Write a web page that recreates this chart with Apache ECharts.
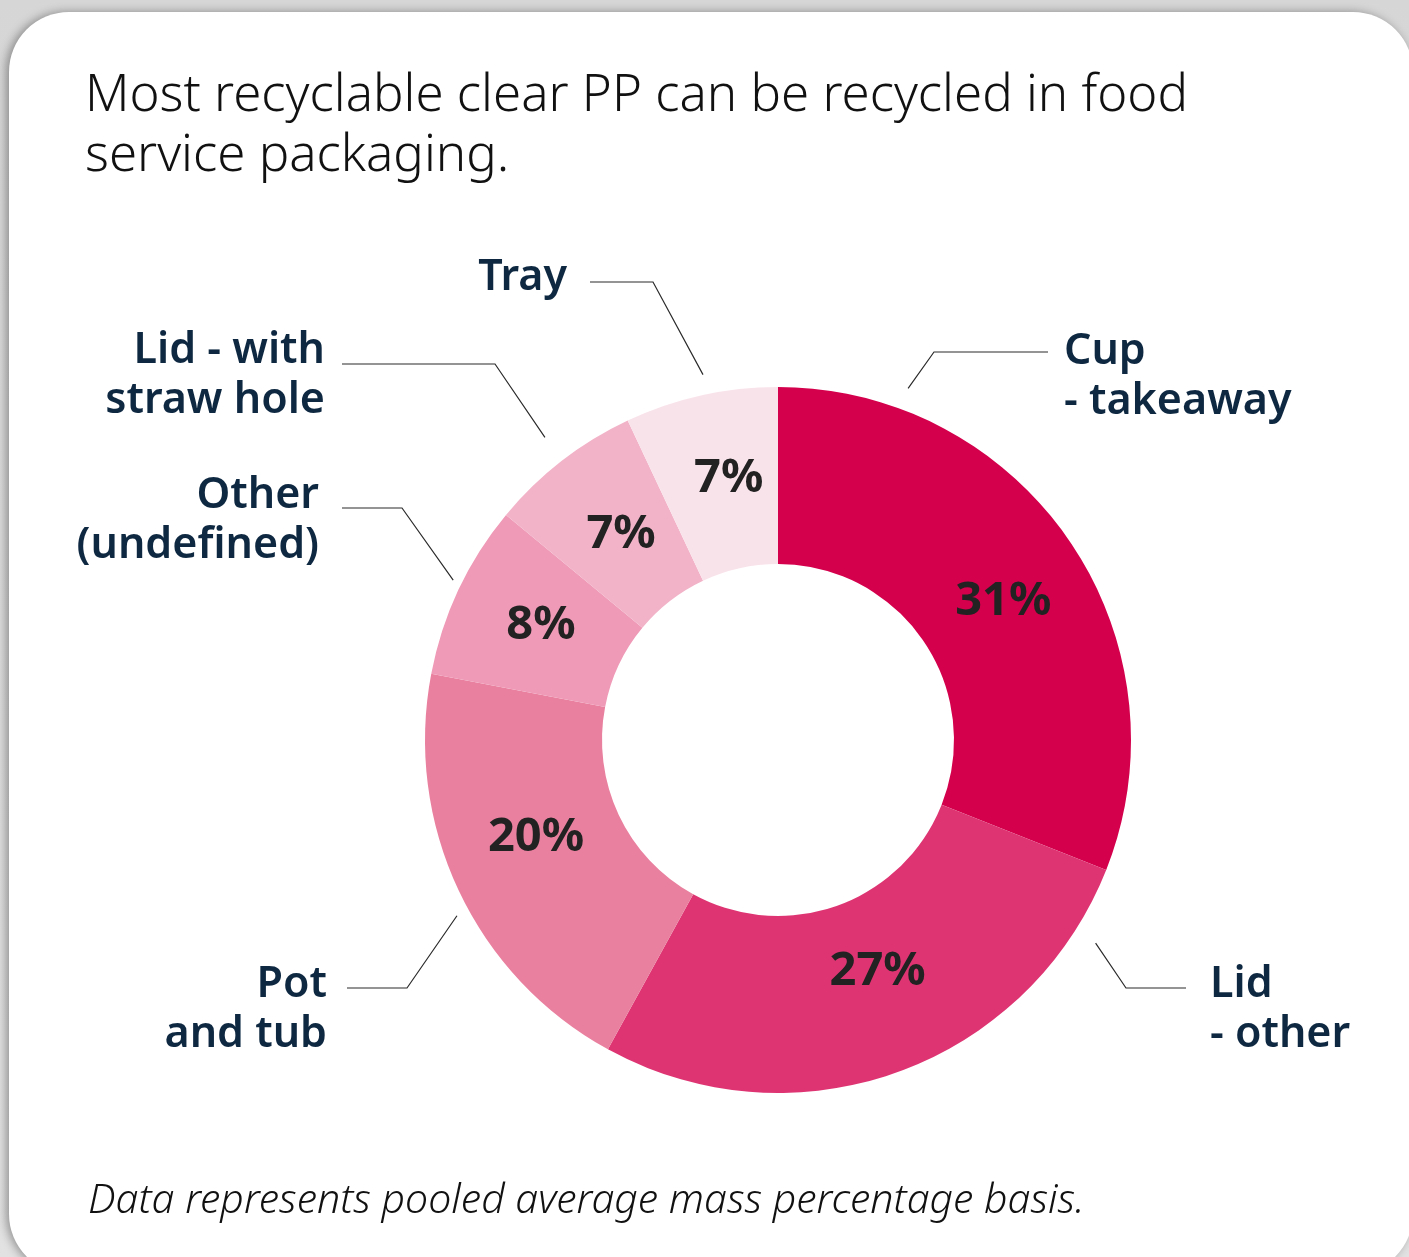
<!DOCTYPE html>
<html>
<head>
<meta charset="utf-8">
<script src="https://cdn.jsdelivr.net/npm/echarts@6/dist/echarts.min.js"></script>
<style>
  html, body { margin: 0; padding: 0; width: 1409px; height: 1257px; overflow: hidden;
    background: linear-gradient(180deg, #d6d6d6 0%, #e2e2e2 100%); }
  #card { position: absolute; left: 9px; top: 12px; width: 1404px; height: 1262px;
    background: #ffffff; border-radius: 60px;
    box-shadow: -3px 0 10px rgba(0,0,0,0.35); }
  #chart { position: absolute; left: 0; top: 0; width: 1409px; height: 1257px; }
</style>
</head>
<body>
<div id="card"></div>
<div id="chart"></div>
<script>
// ---- data ----
const categories = ["Cup\n- takeaway", "Lid\n- other", "Pot\nand tub", "Other\n(undefined)", "Lid - with\nstraw hole", "Tray"];
const shares = [31, 27, 20, 8, 7, 7];
const sliceColors = ["#D4004C", "#DE3572", "#E9809F", "#EF9AB7", "#F2B3C9", "#F9E3EA"];
const titleText = "Most recyclable clear PP can be recycled in food\nservice packaging.";
const noteText = "Data represents pooled average mass percentage basis.";

// ---- layout (styling only) ----
const CENTER = [778, 740];
const R_IN = 176, R_OUT = 353;
const FONT = "'Noto Sans', 'Open Sans', sans-serif";
// outer label placement: anchor angle (deg clockwise from top), anchor radius, elbow, line end, text box
const labelPlacement = [
  { ang: 20.3,  r: 375, elbow: [934, 352], end: [1048, 352], x: 1064, y: 327, align: "left" },
  { ang: 122.6, r: 377, elbow: [1126, 988], end: [1186, 988], x: 1210, y: 960, align: "left" },
  { ang: 241.3, r: 366, elbow: [407, 988], end: [347, 988], x: 327, y: 960, align: "right" },
  { ang: 296.2, r: 362, elbow: [402, 508], end: [342, 508], x: 319, y: 471, align: "right" },
  { ang: 322.4, r: 382, elbow: [495, 364], end: [342, 364], x: 325, y: 326, align: "right" },
  { ang: 348.4, r: 373, elbow: [653, 282], end: [590, 282], x: 567, y: 253, align: "right" }
];
// small nudges of the inner percentage labels
const innerNudge = [[4, 12], [9, -20], [0, -16], [5, 0], [7, 6], [9, 0]];
function polar(angDeg, r) {
  const a = angDeg * Math.PI / 180;
  return [CENTER[0] + r * Math.sin(a), CENTER[1] - r * Math.cos(a)];
}

const pieData = categories.map((name, i) => ({ name: name, value: shares[i], itemStyle: { color: sliceColors[i] } }));

const chart = echarts.init(document.getElementById('chart'), null, { renderer: 'canvas' });
chart.setOption({
  backgroundColor: 'transparent',
  animation: false,
  title: [
    { text: titleText, left: 85, top: 66, padding: 0,
      textStyle: { fontFamily: FONT, fontSize: 51, fontWeight: 300, color: '#111', lineHeight: 60 } },
    { text: noteText, left: 88, top: 1181, padding: 0,
      textStyle: { fontFamily: FONT, fontSize: 41, fontWeight: 300, fontStyle: 'italic', color: '#111', lineHeight: 41 } }
  ],
  series: [
    {
      type: 'pie', name: 'share', center: CENTER, radius: [R_IN, R_OUT],
      startAngle: 90, clockwise: true, silent: true, avoidLabelOverlap: false,
      data: pieData,
      label: { show: true, position: 'inside', formatter: '{c}%',
        fontFamily: FONT, fontSize: 47, fontWeight: 'bold', color: '#222' },
      labelLine: { show: false },
      labelLayout: function (params) {
        const n = innerNudge[params.dataIndex];
        return { dx: n[0], dy: n[1] };
      },
      emphasis: { disabled: true }
    },
    {
      type: 'pie', name: 'names', center: CENTER, radius: [R_IN, R_OUT],
      startAngle: 90, clockwise: true, silent: true, avoidLabelOverlap: false,
      data: categories.map((name, i) => ({ name: name, value: shares[i] })),
      itemStyle: { color: 'rgba(0,0,0,0)' },
      label: { show: true, position: 'outside', formatter: '{b}',
        fontFamily: FONT, fontSize: 43, fontWeight: 600, color: '#0E2841', lineHeight: 50 },
      labelLine: { show: true, lineStyle: { color: '#2a2a2a', width: 1.2 } },
      labelLayout: function (params) {
        const p = labelPlacement[params.dataIndex];
        return {
          x: p.x, y: p.y, align: p.align, verticalAlign: 'top',
          labelLinePoints: [polar(p.ang, p.r), p.elbow, p.end]
        };
      },
      emphasis: { disabled: true }
    }
  ]
});
</script>
</body>
</html>
